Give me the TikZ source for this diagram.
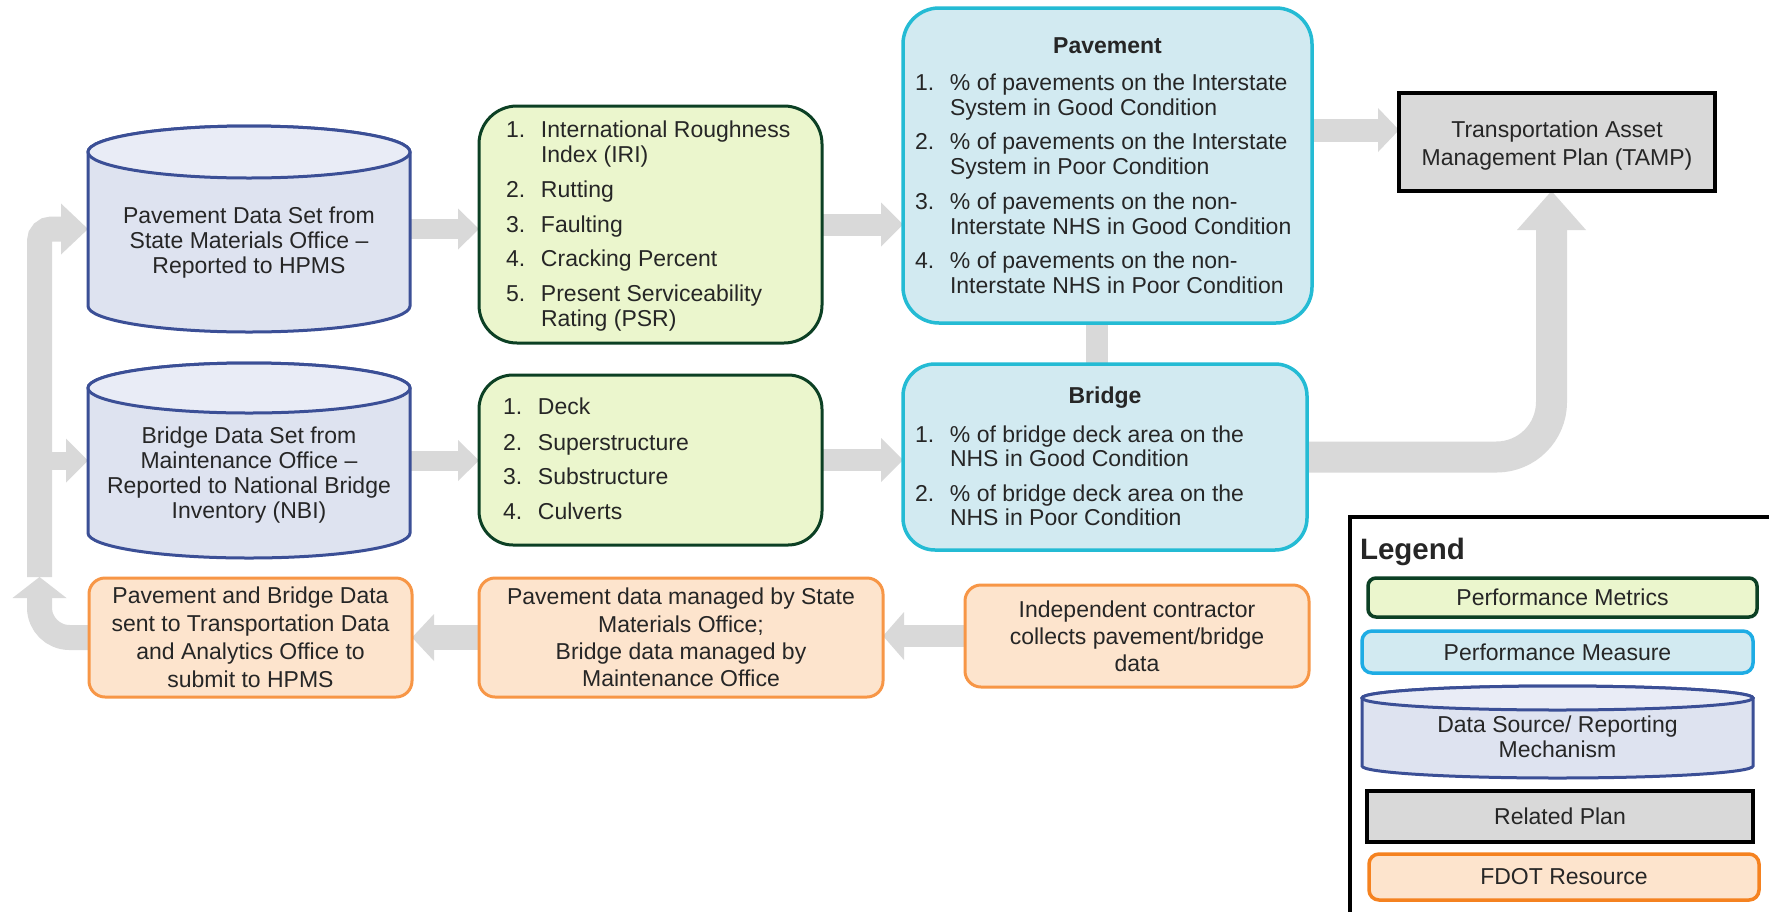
\documentclass[tikz,border=0pt]{standalone}
\usepackage{fontspec}
\setmainfont{Liberation Sans}
\usetikzlibrary{arrows.meta,calc}
\definecolor{agray}{RGB}{217,217,217}
\definecolor{txt}{RGB}{38,38,38}
\definecolor{cylb}{RGB}{59,79,150}
\definecolor{cylf}{RGB}{222,227,240}
\definecolor{cylt}{RGB}{233,236,246}
\definecolor{grf}{RGB}{235,246,205}
\definecolor{grb}{RGB}{12,64,36}
\definecolor{blf}{RGB}{210,234,241}
\definecolor{blb}{RGB}{36,187,212}
\definecolor{blb2}{RGB}{30,172,228}
\definecolor{orf}{RGB}{253,228,205}
\definecolor{orb}{RGB}{247,150,70}
\definecolor{orb2}{RGB}{245,130,32}
\definecolor{plan}{RGB}{217,217,217}
\pgfdeclarelayer{bg}\pgfsetlayers{bg,main}
\newcommand{\mycyl}[3]{%
  \draw[cylline,fill=cylf] ([yshift=-#3]#1.north west) -- ([yshift=#3]#1.south west)
    arc[start angle=180,end angle=360,x radius=#2,y radius=#3]
    -- ([yshift=-#3]#1.north east)
    arc[start angle=0,end angle=180,x radius=#2,y radius=#3] -- cycle;
  \draw[cylline,fill=cylt] ([yshift=-#3]#1.north) ellipse[x radius=#2,y radius=#3];}
\tikzset{
 base/.style={inner sep=0pt, outer sep=0pt, text=txt, font=\fontsize{23}{25}\selectfont},
 greenbox/.style={base, draw=grb, fill=grf, line width=3pt, rounded corners=38pt},
 bluebox/.style={base, draw=blb, fill=blf, line width=3.5pt, rounded corners=36pt},
 orangebox/.style={base, draw=orb, fill=orf, line width=3pt, rounded corners=16pt, align=center},
 planbox/.style={base, draw=black, fill=plan, line width=4pt, align=center},
 cylnode/.style={base, rectangle},
 cylline/.style={draw=cylb, line width=3pt},
 ga/.style n args={3}{draw=agray, line width=#1, -{Triangle[width=#2,length=#3,line width=0pt]}},
 gbar/.style={draw=agray, line width=#1},
}
\begin{document}
\begin{tikzpicture}[x=1pt,y=-1pt]
\useasboundingbox (0,0) rectangle (1769,911);
\clip (0,0) rectangle (1769,911);

% data source cylinders
\node[cylnode, minimum width=322pt, minimum height=206pt] (c1) at (249,229) {};
\mycyl{c1}{161pt}{26pt}
\node[base, align=center] (c1t) at ([yshift=-14pt]c1.center) {Pavement Data Set from\\State Materials Office –\\Reported to HPMS};

\node[cylnode, minimum width=322pt, minimum height=195pt] (c2) at (249,460.5) {};
\mycyl{c2}{161pt}{25pt}
\node[base, align=center] (c2t) at ([yshift=-15pt]c2.center) {Bridge Data Set from\\Maintenance Office –\\Reported to National Bridge\\Inventory (NBI)};

% metrics
\node[greenbox, minimum width=343pt, minimum height=237pt] (g1) at (650.5,224.5) {\makebox[289pt][l]{\begin{tabular}{@{}p{35pt}@{}l@{}}
\noalign{\vspace{5pt}}
1. & International Roughness\\
   & Index (IRI)\\[10pt]
2. & Rutting\\[10pt]
3. & Faulting\\[9pt]
4. & Cracking Percent\\[10pt]
5. & Present Serviceability\\
   & Rating (PSR)
\end{tabular}}};

\node[greenbox, rounded corners=34pt, minimum width=343pt, minimum height=170pt] (g2) at (650.5,460) {\makebox[295pt][l]{\begin{tabular}{@{}p{35pt}@{}l@{}}
\noalign{\vspace{4pt}}
1. & Deck\\[11pt]
2. & Superstructure\\[9pt]
3. & Substructure\\[10pt]
4. & Culverts
\end{tabular}}};

% measures
\node[bluebox, minimum width=409pt, minimum height=315pt] (pav) at (1107.5,165.5) {\makebox[385pt][l]{\begin{tabular}{@{}p{35pt}@{}l@{}}
\noalign{\vspace{5pt}}
\multicolumn{2}{@{}c@{}}{\makebox[385pt]{\bfseries Pavement}}\\[12pt]
1. & \% of pavements on the Interstate\\
   & System in Good Condition\\[9pt]
2. & \% of pavements on the Interstate\\
   & System in Poor Condition\\[10pt]
3. & \% of pavements on the non-\\
   & Interstate NHS in Good Condition\\[9pt]
4. & \% of pavements on the non-\\
   & Interstate NHS in Poor Condition
\end{tabular}}};

\node[bluebox, rounded corners=32pt, font=\fontsize{23}{23.5}\selectfont, minimum width=404pt, minimum height=186pt] (br) at (1105,457) {\makebox[380pt][l]{\begin{tabular}{@{}p{35pt}@{}l@{}}
\noalign{\vspace{5pt}}
\multicolumn{2}{@{}c@{}}{\makebox[380pt]{\bfseries Bridge}}\\[15.5pt]
1. & \% of bridge deck area on the\\
   & NHS in Good Condition\\[12pt]
2. & \% of bridge deck area on the\\
   & NHS in Poor Condition
\end{tabular}}};

% plan
\node[planbox, font=\fontsize{23}{28}\selectfont, minimum width=316pt, minimum height=98pt] (tamp) at (1557,142) {\begin{tabular}{@{}c@{}}
\noalign{\vspace{7pt}}
Transportation Asset\\Management Plan (TAMP)
\end{tabular}};

% FDOT resources
\node[orangebox, font=\fontsize{23}{28}\selectfont, minimum width=323pt, minimum height=119pt] (o1) at (250.5,637.5) {Pavement and Bridge Data\\sent to Transportation Data\\and Analytics Office to\\submit to HPMS};
\node[orangebox, font=\fontsize{23}{27.3}\selectfont, minimum width=404pt, minimum height=119pt] (o2) at (681,637.5) {Pavement data managed by State\\Materials Office;\\Bridge data managed by\\Maintenance Office};
\node[orangebox, font=\fontsize{23}{27}\selectfont, minimum width=344pt, minimum height=102pt] (o3) at (1137,636) {Independent contractor\\collects pavement/bridge\\data};

% legend
\node[draw=black, line width=3.5pt, minimum width=440pt, minimum height=414pt, inner sep=0pt] (lg) at (1570,724) {};
\node[base, font=\fontsize{29.5}{30}\selectfont\bfseries, anchor=base west] (legt) at (1360,559) {Legend};
\node[greenbox, rounded corners=8pt, line width=3.5pt, minimum width=389pt, minimum height=39pt] (lm1) at (1562.5,597.5) {Performance Metrics};
\node[bluebox, draw=blb2, rounded corners=10pt, minimum width=391pt, minimum height=42pt] (lm2) at (1557.5,652) {Performance Measure};
\node[cylnode, minimum width=391pt, minimum height=92pt] (lm3) at (1557.5,732) {};
\mycyl{lm3}{195.5pt}{12pt}
\node[base, align=center] (lm3t) at ([yshift=-5pt]lm3.center) {Data Source/ Reporting\\Mechanism};
\node[planbox, minimum width=386pt, minimum height=51pt] (lm4) at (1560,816.5) {Related Plan};
\node[orangebox, draw=orb2, line width=3.5pt, rounded corners=10pt, minimum width=390pt, minimum height=46pt] (lm5) at (1564,877) {FDOT Resource};

% connectors
\begin{pgfonlayer}{bg}
\fill[white] (0,0) rectangle (1769,911);
\draw[ga={20pt}{41pt}{21pt}] (c1.east) -- (c1.east -| g1.west);
\draw[ga={20pt}{41pt}{21pt}] (c2.east) -- (c2.east -| g2.west);
\draw[ga={22pt}{44pt}{22pt}] (g1.east) -- (g1.east -| pav.west);
\draw[ga={22pt}{44pt}{22pt}] (g2.east) -- (g2.east -| br.west);
\draw[ga={23pt}{44pt}{21pt}] ([yshift=12pt]tamp.west -| pav.east) -- ([yshift=12pt]tamp.west);
\draw[gbar=22pt] ([xshift=-11pt]pav.south) -- ([xshift=-11pt]pav.south |- br.north);
\draw[ga={31pt}{69pt}{39pt}, rounded corners=55pt] (br.east) -| ([xshift=-5.5pt]tamp.south);
\draw[ga={22pt}{48pt}{21pt}] (o3.west) -- (o3.west -| o2.east);
\draw[ga={25pt}{47pt}{22pt}] (o2.west) -- (o2.west -| o1.east);
\coordinate (lup) at (39.5,577);
\draw[ga={25pt}{54pt}{21pt}, rounded corners=30pt] (o1.west) -- (o1.west -| lup) -- (lup);
\draw[ga={25pt}{51pt}{27pt}, rounded corners=12pt] (lup) |- (c1.west);
\draw[ga={18pt}{44pt}{22pt}] (lup |- c2.west) -- (c2.west);
\end{pgfonlayer}
\end{tikzpicture}
\end{document}
